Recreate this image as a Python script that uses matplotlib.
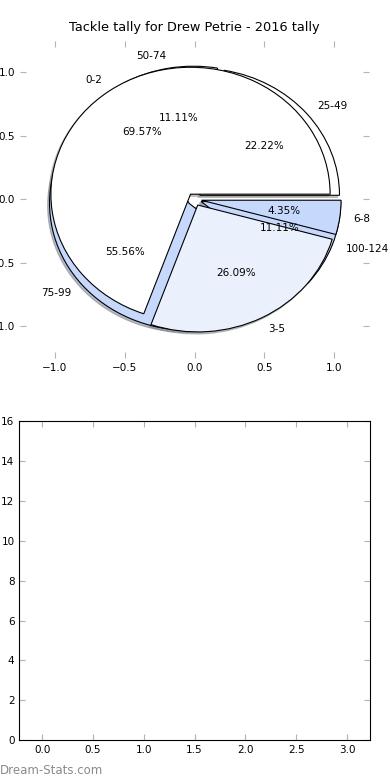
import matplotlib.pyplot as plt

# tackle ranges and how many games fell into each
tally_labels = ['0-2', '3-5', '6-8']
tally_counts = [16, 6, 1]
range_labels = ['25-49', '50-74', '75-99', '100-124']
range_counts = [2, 1, 5, 1]

tally_colors = ['white', '#eaf1fd', '#c6d9fc']
range_colors = ['white', 'white', '#c6d9fc', '#c6d9fc']

bar_xticks = [0.0, 0.5, 1.0, 1.5, 2.0, 2.5, 3.0]
bar_yticks = [0, 2, 4, 6, 8, 10, 12, 14, 16]

plt.rcParams['font.size'] = 7.5

fig = plt.figure(figsize=(3.9, 7.8), dpi=100)

# top: two pies drawn on the same axes
ax1 = fig.add_axes([0.0513, 0.541, 0.895, 0.4068])
wedge_style = {'edgecolor': 'black', 'linewidth': 0.8}
shadow_style = {'ox': -0.01, 'oy': -0.012, 'shade': 0.45}
ax1.pie(range_counts, labels=range_labels, colors=range_colors,
        explode=[0.05] * len(range_counts), autopct='%1.2f%%',
        shadow=shadow_style, wedgeprops=wedge_style, frame=True,
        textprops={'fontsize': 7.5})
ax1.pie(tally_counts, labels=tally_labels, colors=tally_colors,
        explode=[0.05] * len(tally_counts), autopct='%1.2f%%',
        shadow=shadow_style, wedgeprops=wedge_style, frame=True,
        textprops={'fontsize': 7.5})
ax1.set_aspect('auto')
ax1.set_xlim(-1.25, 1.25)
ax1.set_ylim(-1.25, 1.25)
ax1.set_xticks([-1.0, -0.5, 0.0, 0.5, 1.0])
ax1.set_yticks([-1.0, -0.5, 0.0, 0.5, 1.0])
ax1.set_frame_on(False)
ax1.set_title('Tackle tally for Drew Petrie - 2016 tally', fontsize=9.3, pad=7)

# bottom: empty bar axes
ax2 = fig.add_axes([0.0495, 0.0509, 0.899, 0.4094])
ax2.set_xlim(-0.225, 3.225)
ax2.set_ylim(0, 16)
ax2.set_xticks(bar_xticks)
ax2.set_yticks(bar_yticks)

for ax in (ax1, ax2):
    ax.tick_params(direction='in', top=True, right=True, length=4,
                   color='0.7', labelsize=7.5)

fig.text(0.0, 0.004, 'Dream-Stats.com', color='#8a8a8a', fontsize=8.5,
         ha='left', va='bottom')

fig.savefig('out.png', dpi=100)
